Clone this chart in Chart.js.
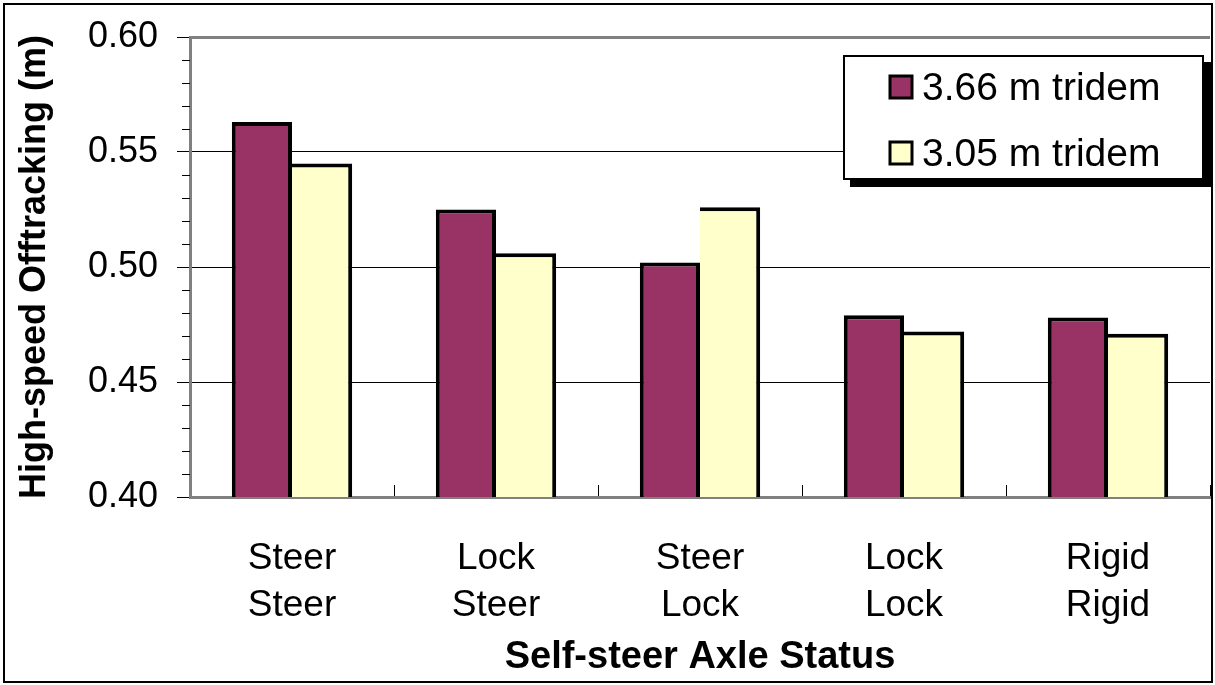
<!DOCTYPE html>
<html>
<head>
<meta charset="utf-8">
<script src="https://cdn.jsdelivr.net/npm/chart.js@4.4.1/dist/chart.umd.min.js"></script>
<style>
  body { margin: 0; background: #fff; }
  #wrap { width: 1215px; height: 685px; position: relative; }
</style>
</head>
<body>
<div id="wrap"><canvas id="offtracking"></canvas></div>
<script>
// axle status of the two self-steer axles, one line each
var firstAxle = ['Steer', 'Lock', 'Steer', 'Lock', 'Rigid'];
var secondAxle = ['Steer', 'Steer', 'Lock', 'Lock', 'Rigid'];

var seriesNames = ['3.66 m tridem', '3.05 m tridem'];
var tridem366 = [0.563, 0.525, 0.502, 0.479, 0.478];
var tridem305 = [0.545, 0.506, 0.526, 0.472, 0.471];

var yTicks = [0.40, 0.45, 0.50, 0.55, 0.60];

var FONT = "'Liberation Sans', Arial, sans-serif";

var labels = firstAxle.map(function (a, i) { return [a, secondAxle[i]]; });

// white background, outer frame, minor ticks on the value axis and the legend box
var framePlugin = {
    id: 'frame',
    beforeDraw: function (chart) {
        const ctx = chart.ctx;
        ctx.save();
        ctx.fillStyle = 'white';
        ctx.fillRect(0, 0, chart.width, chart.height);
        ctx.restore();
    },
    afterDraw: function (chart) {
        const ctx = chart.ctx;
        const y = chart.scales.y;
        const left = chart.chartArea.left;
        ctx.save();

        // minor ticks every 0.01
        ctx.strokeStyle = 'black';
        ctx.lineWidth = 1;
        for (let k = 41; k < 60; k++) {
            if (k % 5 == 0) continue;
            let py = Math.round(y.getPixelForValue(k / 100)) + 0.5;
            ctx.beginPath();
            ctx.moveTo(left - 8, py);
            ctx.lineTo(left, py);
            ctx.stroke();
        }

        // legend with drop shadow
        ctx.fillStyle = 'black';
        ctx.fillRect(850, 62, 361, 125);
        ctx.fillStyle = 'white';
        ctx.fillRect(843, 55, 361, 125);
        ctx.lineWidth = 2;
        ctx.strokeStyle = 'black';
        ctx.strokeRect(844, 56, 359, 123);

        chart.data.datasets.forEach(function (ds, i) {
            let cy = 87 + i * 66;
            ctx.fillStyle = ds.backgroundColor;
            ctx.fillRect(890, cy - 11, 22, 22);
            ctx.lineWidth = 3;
            ctx.strokeStyle = 'black';
            ctx.strokeRect(890, cy - 11, 22, 22);
            ctx.fillStyle = 'black';
            ctx.font = '39px ' + FONT;
            ctx.textBaseline = 'middle';
            ctx.textAlign = 'left';
            ctx.fillText(ds.label, 922, cy + 2);
        });

        // outer frame
        ctx.lineWidth = 2;
        ctx.strokeStyle = 'black';
        ctx.strokeRect(4, 4, 1208, 678);
        ctx.restore();
    }
};

var ctxOff = document.getElementById('offtracking').getContext('2d');

const offConfig = {
    type: 'bar',
    data: {
        labels: labels,
        datasets: [{
            label: seriesNames[0],
            data: tridem366,
            backgroundColor: '#993366',
            borderColor: 'black',
            borderWidth: { top: 4, left: 4, right: 4, bottom: 0 },
            borderSkipped: false
        }, {
            label: seriesNames[1],
            data: tridem305,
            backgroundColor: '#FFFFCC',
            borderColor: 'black',
            borderWidth: { top: 4, left: 0, right: 4, bottom: 0 },
            borderSkipped: false
        }]
    },
    options: {
        responsive: true,
        maintainAspectRatio: false,
        animation: false,
        layout: {
            padding: { left: 0, top: 37, right: 5, bottom: 0 }
        },
        datasets: {
            bar: {
                barPercentage: 1.0,
                categoryPercentage: 0.59
            }
        },
        plugins: {
            legend: { display: false },
            tooltip: { enabled: false }
        },
        scales: {
            x: {
                afterFit: function (scale) { scale.height = 188; },
                grid: {
                    offset: true,
                    drawOnChartArea: false,
                    tickLength: -12,
                    color: 'black',
                    lineWidth: 1
                },
                border: { display: true, color: '#808080', width: 3 },
                ticks: {
                    color: 'black',
                    padding: 50,
                    maxRotation: 0,
                    autoSkip: false,
                    font: { family: FONT, size: 37, lineHeight: 1.27 }
                },
                title: {
                    display: true,
                    text: 'Self-steer Axle Status',
                    color: 'black',
                    padding: { top: 0, bottom: 5 },
                    font: { family: FONT, size: 38, weight: 'bold', lineHeight: 1.2 }
                }
            },
            y: {
                min: yTicks[0],
                max: yTicks[yTicks.length - 1],
                afterFit: function (scale) { scale.width = 190; },
                afterBuildTicks: function (scale) {
                    scale.ticks = yTicks.map(function (v) { return { value: v }; });
                },
                grid: {
                    color: function (c) {
                        if (c.tick.value > 0.599) return '#808080';
                        if (c.tick.value < 0.401) return 'rgba(0,0,0,0)';
                        return 'black';
                    },
                    lineWidth: function (c) { return c.tick.value > 0.599 ? 3 : 1; },
                    tickColor: 'black',
                    tickWidth: 1,
                    tickLength: 13
                },
                border: { display: true, color: '#808080', width: 3 },
                ticks: {
                    color: 'black',
                    padding: 19,
                    font: { family: FONT, size: 36, lineHeight: 0.8 },
                    callback: function (v) { return Number(v).toFixed(2); }
                },
                title: {
                    display: true,
                    text: 'High-speed Offtracking (m)',
                    color: 'black',
                    padding: { top: 13, bottom: 0 },
                    font: { family: FONT, size: 36, weight: 'bold', lineHeight: 1.2 }
                }
            }
        }
    },
    plugins: [framePlugin]
};
var offChart = new Chart(ctxOff, offConfig);
</script>
</body>
</html>
